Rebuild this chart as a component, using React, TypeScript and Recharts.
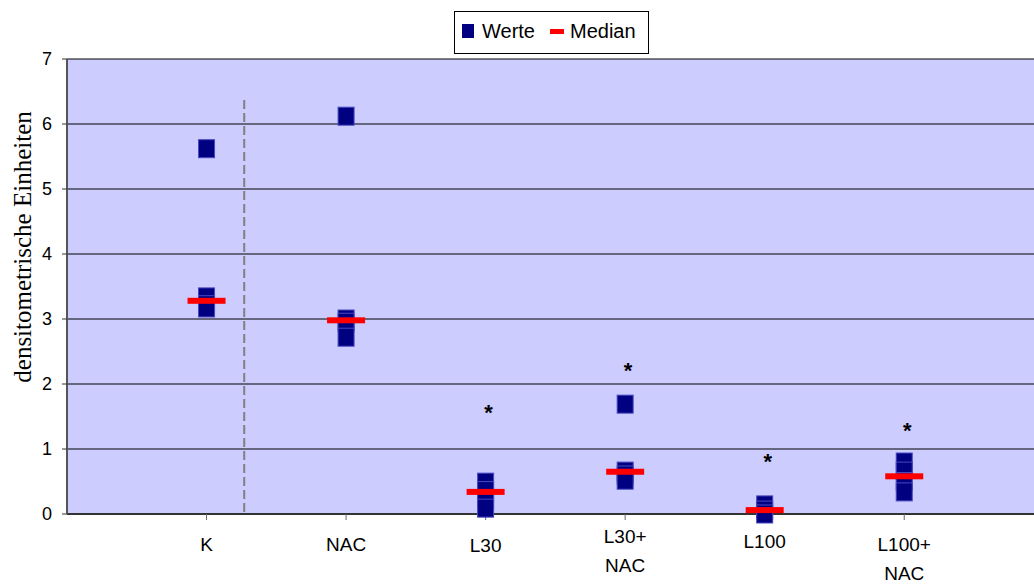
import React from 'react';
import {
  ScatterChart,
  Scatter,
  XAxis,
  YAxis,
  CartesianGrid,
  ReferenceLine,
  Label,
} from 'recharts';

// categories along the x axis (multi-line labels split on \n)
const categories = ['K', 'NAC', 'L30', 'L30+\nNAC', 'L100', 'L100+\nNAC'];

// single values per group
const werteK = [5.62, 3.34, 3.22, 3.17];
const werteNAC = [6.12, 3.0, 2.95, 2.72];
const werteL30 = [0.49, 0.36, 0.22, 0.09];
const werteL30NAC = [1.69, 0.66, 0.6, 0.52];
const werteL100 = [0.14, 0.06, 0.0];
const werteL100NAC = [0.8, 0.66, 0.5, 0.34];

const medians = [3.28, 2.98, 0.34, 0.65, 0.06, 0.58];
const stars = [null, null, 1.65, 2.29, 0.9, 1.37];

const yTicks = [0, 1, 2, 3, 4, 5, 6, 7];
const xTicks = [1, 2, 3, 4, 5, 6];
const separatorX = 1.27;
const separatorTop = 6.37;

const groups = [werteK, werteNAC, werteL30, werteL30NAC, werteL100, werteL100NAC];
const werteData = groups.flatMap((vals, i) => vals.map((v) => ({ x: i + 1, y: v })));
const medianData = medians.map((v, i) => ({ x: i + 1, y: v }));
const starData = stars
  .map((v, i) => (v == null ? null : { x: i + 1, y: v }))
  .filter(Boolean) as { x: number; y: number }[];

// per-label vertical placement of the first line (px below the axis)
const labelOffsets = [35, 35, 36, 27, 32, 35];

const FONT = '"Liberation Sans", Arial, sans-serif';

const CatTick = (props: any) => {
  const { x, y, payload } = props;
  const idx = Math.round(payload.value) - 1;
  const label = categories[idx];
  if (!label) return null;
  const lines = label.split('\n');
  return (
    <text x={x} y={y} textAnchor="middle" fontFamily={FONT} fontSize={19} fill="#000">
      {lines.map((l, i) => (
        <tspan key={i} x={x} y={y - 6 + labelOffsets[idx] + i * 29}>
          {l}
        </tspan>
      ))}
    </text>
  );
};

const WertShape = (props: any) => {
  const { cx, cy } = props;
  return (
    <rect x={cx - 8} y={cy - 9} width={16} height={18} fill="#000080" stroke="#4848c0" strokeWidth={1} />
  );
};

const MedianShape = (props: any) => {
  const { cx, cy } = props;
  return <rect x={cx - 19} y={cy - 3} width={38} height={6} fill="#ff0000" />;
};

const StarShape = (props: any) => {
  const { cx, cy } = props;
  return (
    <text x={cx + 3} y={cy + 13} textAnchor="middle" fontFamily={FONT} fontSize={22} fontWeight="bold" fill="#000">
      *
    </text>
  );
};

const App: React.FC = () => {
  return (
    <div style={{ position: 'absolute', left: 0, top: 0, width: 1034, height: 585, background: '#fff' }}>
      <ScatterChart width={1034} height={585} margin={{ top: 59, right: 0, bottom: 0, left: 0 }}>
        <CartesianGrid vertical={false} stroke="#000" fill="#ccccff" fillOpacity={1} />
        <XAxis
          type="number"
          dataKey="x"
          domain={[0, 6.93]}
          ticks={xTicks}
          allowDataOverflow
          interval={0}
          stroke="#333"
          strokeWidth={2}
          tickSize={6}
          tickLine={{ stroke: '#666', strokeWidth: 1 }}
          tick={<CatTick />}
          height={71}
        />
        <YAxis
          type="number"
          dataKey="y"
          domain={[0, 7]}
          ticks={yTicks}
          interval={0}
          width={67}
          stroke="#555"
          strokeWidth={2}
          tickSize={5}
          tickMargin={10}
          tickLine={{ stroke: '#333', strokeWidth: 1 }}
          tick={{ fill: '#000', fontFamily: FONT, fontSize: 18 }}
        >
          <Label
            content={() => (
              <text
                x={22}
                y={247}
                transform="rotate(-90 22 247)"
                textAnchor="middle"
                dominantBaseline="central"
                fontFamily='"Liberation Serif", "Times New Roman", serif'
                fontSize={25}
                fill="#000"
              >
                densitometrische Einheiten
              </text>
            )}
          />
        </YAxis>
        <ReferenceLine
          segment={[
            { x: separatorX, y: separatorTop },
            { x: separatorX, y: 0 },
          ]}
          stroke="#808080"
          strokeWidth={2}
          strokeDasharray="9 4"
        />
        <Scatter name="Werte" data={werteData} shape={<WertShape />} isAnimationActive={false} />
        <Scatter name="Median" data={medianData} shape={<MedianShape />} isAnimationActive={false} />
        <Scatter name="stars" data={starData} shape={<StarShape />} isAnimationActive={false} />
      </ScatterChart>
      <div
        style={{
          position: 'absolute',
          left: 454,
          top: 11,
          width: 193,
          height: 41,
          border: '1px solid #000',
          background: '#fff',
          fontFamily: FONT,
          fontSize: 20,
          color: '#000',
        }}
      >
        <div style={{ position: 'absolute', left: 7, top: 12, width: 12, height: 14, background: '#000080' }} />
        <div style={{ position: 'absolute', left: 27, top: 7, lineHeight: '24px' }}>Werte</div>
        <div style={{ position: 'absolute', left: 95, top: 17, width: 14, height: 5, background: '#ff0000' }} />
        <div style={{ position: 'absolute', left: 115, top: 7, lineHeight: '24px' }}>Median</div>
      </div>
    </div>
  );
};

export default App;
